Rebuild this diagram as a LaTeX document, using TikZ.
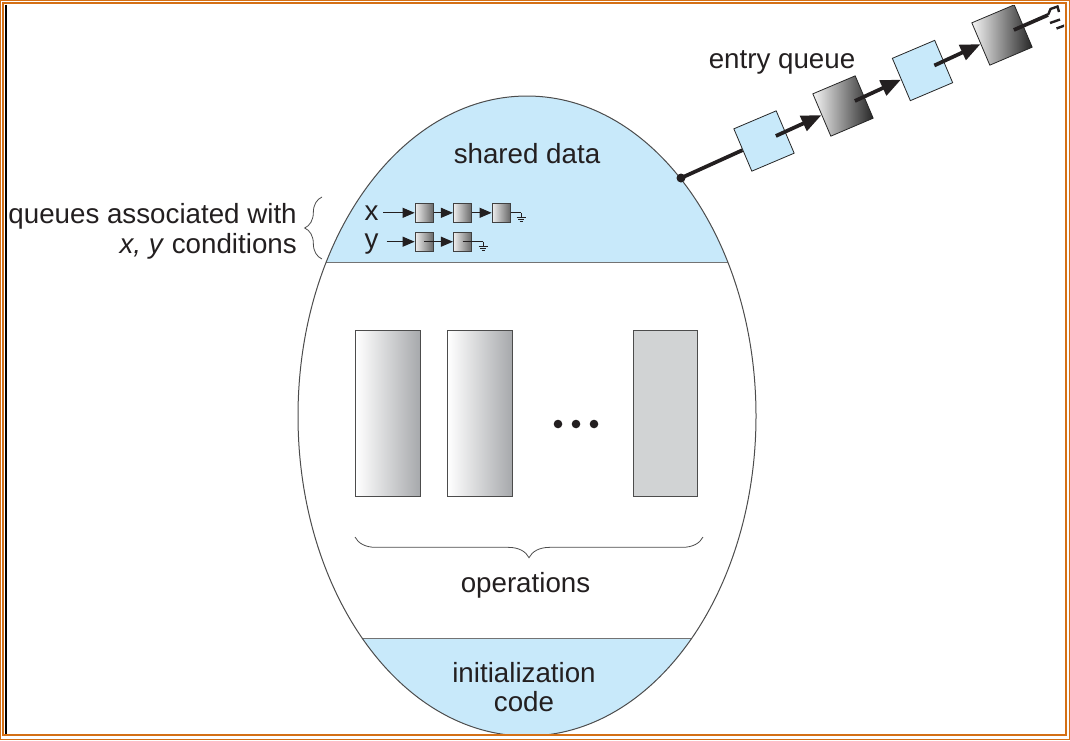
\documentclass[tikz,border=0pt]{standalone}
\usepackage{fontspec}
\setmainfont{Liberation Sans}
\usetikzlibrary{arrows.meta,decorations.pathreplacing,calc}
\definecolor{qblue}{RGB}{200,233,250}
\definecolor{frameor}{RGB}{212,112,22}
\definecolor{opgray}{RGB}{209,211,212}
\definecolor{opdark}{RGB}{166,168,171}
\definecolor{txt}{RGB}{35,31,32}
\newcommand\qgnd[1]{\draw[sline] #1 -- ++(0,4.3) ++(-4.5,0) -- ++(9,0) ++(-7.5,2.2) -- ++(6,0) ++(-4.5,2.2) -- ++(3,0);}
\begin{document}
\begin{tikzpicture}[x=0.75pt,y=-0.75pt,
  lbl/.style={font=\fontsize{20.8}{25}\selectfont, text=txt, inner sep=0pt},
  oprect/.style={draw=black!70, line width=0.75pt, minimum width=48.6pt, minimum height=124.7pt, inner sep=0pt},
  sbox/.style={draw=black!75, line width=0.5pt, minimum width=13.9pt, minimum height=14.2pt, inner sep=0pt, left color=gray!12, right color=black!60},
  sline/.style={draw=txt, line width=0.75pt},
  sarrow/.style={sline, -{Triangle[length=9pt,width=7.5pt]}},
  ebox/.style={draw=black!85, line width=0.6pt, minimum size=34.5pt, inner sep=0pt, rotate=23},
  eblue/.style={ebox, fill=qblue},
  egray/.style={ebox, left color=gray!8, right color=black!85},
  eline/.style={draw=txt, line width=2.8pt},
  earrow/.style={eline, -{Triangle[length=15pt,width=12pt]}},
  brc/.style={decorate, draw=black!70, line width=0.6pt},
  ellline/.style={draw=black!70, line width=0.75pt},
  divline/.style={draw=black!55, line width=0.75pt}]
\useasboundingbox (0,0) rectangle (1070,740);
\begin{scope}
\clip (5,5) rectangle (1064,734);
% monitor body
\begin{scope}
\clip (527,416) ellipse [x radius=229, y radius=320];
\fill[qblue] (0,0) rectangle (1070,262);
\fill[qblue] (0,638) rectangle (1070,760);
\draw[divline] (280,262) -- (780,262);
\draw[divline] (280,638) -- (780,638);
\end{scope}
\draw[ellline] (527,416) ellipse [x radius=229, y radius=320];

% texts
\node[lbl, anchor=base] (shared) at (527,163) {shared data};
\node[lbl, anchor=base] (entry) at (782,68) {entry queue};
\node[lbl, anchor=base east] (q1) at (297,223) {queues associated with};
\node[lbl, anchor=base east] (q2) at (297,253) {\textit{x, y} conditions};
\node[lbl, anchor=base] (ops) at (525.5,592) {operations};
\node[lbl, anchor=base] (init) at (524,682) {initialization};
\node[lbl, anchor=base] (code) at (524,711) {code};
\node[lbl, anchor=base] (xl) at (371.5,220) {x};
\node[lbl, anchor=base] (yl) at (371.5,248) {y};

% braces
\draw[brc, decoration={brace, amplitude=13pt}] (322,259) -- (322,197);
\draw[brc, decoration={brace, amplitude=15.5pt}] (703,537) -- (355,537);

% operations
\node[oprect, left color=white, right color=opdark] (op1) at (388.3,413.8) {};
\node[oprect, left color=white, right color=opdark] (op2) at (480.3,413.8) {};
\node[oprect, fill=opgray] (op3) at (665.5,413.8) {};
\fill[txt] (558,424) circle [radius=4.3];
\fill[txt] (576,424) circle [radius=4.3];
\fill[txt] (594,424) circle [radius=4.3];

% condition queues
\coordinate (xs) at (383,212.8);
\node[sbox] (xa) at (424.2,212.8) {};
\node[sbox] (xb) at (462.5,212.8) {};
\node[sbox] (xc) at (501.2,212.8) {};
\coordinate (xg) at (521,212.8);
\draw[sarrow] (xs) -- (xa.west);
\draw[sarrow] (xa.east) -- (xb.west);
\draw[sarrow] (xb.east) -- (xc.west);
\draw[sline] (xc.east) -- (xg);
\qgnd{(xg)}
\coordinate (ys) at (386.7,241.7);
\node[sbox] (ya) at (424.2,241.7) {};
\node[sbox] (yb) at (462.5,241.7) {};
\coordinate (yg) at (483,241.7);
\draw[sarrow] (ys) -- (ya.west);
\draw[sarrow] (ya.center) -- (yb.west);
\draw[sline] (yb.center) -- (yg);
\qgnd{(yg)}

% entry queue
\coordinate (edot) at (681,178);
\node[eblue] (b1) at (764,141) {};
\node[egray] (b2) at (843,106) {};
\node[eblue] (b3) at (922.5,70.5) {};
\node[egray] (b4) at (1002,35) {};
\coordinate (eend) at (1048,15);
\draw[eline] (edot) -- (b1.west);
\fill[txt] (edot) circle [radius=4.5];
\draw[earrow] ($(b1.center)!0.55!(b1.east)$) -- (b2.west);
\draw[earrow] ($(b2.center)!0.55!(b2.east)$) -- (b3.west);
\draw[earrow] ($(b3.center)!0.55!(b3.east)$) -- (b4.west);
\draw[eline] ($(b4.center)!0.55!(b4.east)$) -- (eend);
\draw[txt, line width=1.8pt] (eend) -- (1050.5,9) -- (1057.5,6.5) -- (1059,12);
\draw[txt, line width=1.8pt] (1050,23) -- (1060,19.5);
\draw[txt, line width=1.8pt] (1056.5,28.5) -- (1066,25);
\end{scope}

% frame
\draw[frameor, line width=0.75pt] (0.5,0.5) rectangle (1069.5,739.5);
\draw[frameor, line width=1.5pt] (3,3) rectangle (1065.5,735);
\draw[black, line width=1.5pt] (5.7,4.5) -- (5.7,734);
\end{tikzpicture}
\end{document}
